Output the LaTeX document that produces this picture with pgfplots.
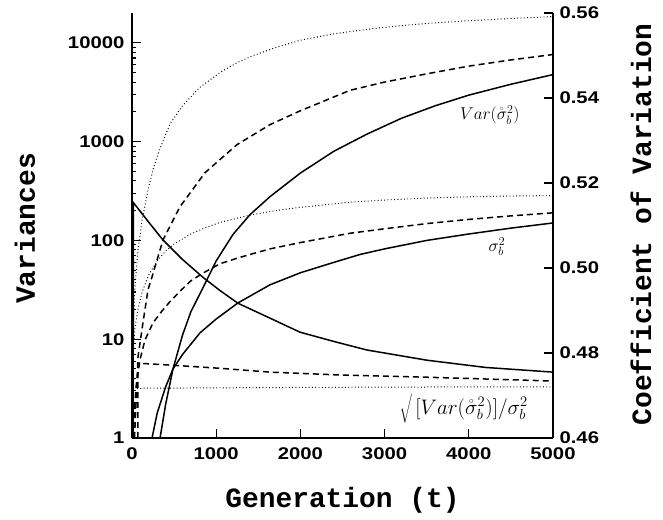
\documentclass[border=0pt]{standalone}
\usepackage{pgfplots}
\pgfplotsset{compat=1.18}
\usepackage{graphicx}
\usepackage{fontspec}
\setmainfont{Liberation Sans}
\newfontfamily\tickfont{Liberation Sans}[FakeStretch=1.2]
\newfontfamily\labfont{Liberation Mono}
\begin{document}
\begin{tikzpicture}
\pgfplotsset{
  common/.style={
    scale only axis, width=421bp, height=425bp,
    xmin=0, xmax=5000,
    tick align=inside,
    major tick length=9bp, minor tick length=4.5bp,
    every tick/.style={line width=1.1bp, black},
    axis line style={line width=1.6bp, -},
    tick label style={font=\tickfont\bfseries\fontsize{17}{20}\selectfont},
    clip mode=individual,
  },
  sol/.style={black, line width=1.5bp},
  das/.style={black, line width=1.5bp, dash pattern=on 6bp off 4bp},
  dot/.style={black, line width=1bp, dash pattern=on 0.9bp off 2.4bp},
}
\begin{axis}[common,
  ymode=log, ymin=1, ymax=20000,
  axis x line*=bottom, axis y line*=left,
  xtick={0,1000,2000,3000,4000,5000},
  xticklabels={0,1000,2000,3000,4000,5000},
  ytick={1,10,100,1000,10000},
  yticklabels={1,10,100,1000,10000},
  yticklabel style={anchor=east, xshift=-4bp},
  xticklabel style={anchor=north, yshift=-6bp},
]
% Var, solid
\addplot[sol] coordinates {(333,1)(400,2.2)(487,5)(600,11)(700,19)(831,31.6)(1000,62)(1200,115)(1401,182)(1639,277)(2000,480)(2400,800)(2800,1200)(3200,1720)(3600,2300)(4000,2950)(4500,3800)(5000,4760)};
% sigma^2, solid
\addplot[sol] coordinates {(238,1)(300,1.8)(400,3.3)(487,5)(600,7.0)(808,11.6)(1000,16)(1259,23.3)(1639,35.5)(2000,47)(2400,60)(2708,72)(3000,82)(3504,100)(4000,116)(4500,133)(5000,150)};
% Var, dashed
\addplot[das] coordinates {(30,1)(71,6.6)(130,14.6)(190,31.6)(238,42.8)(368,101)(570,219)(867,484)(1247,930)(1639,1483)(2000,2050)(2589,3300)(3000,4000)(3504,4850)(4000,5800)(4500,6700)(5000,7600)};
% sigma^2, dashed
\addplot[das] coordinates {(15,1)(30,2)(50,3.4)(95,6.2)(154,9.8)(249,14.6)(350,19)(451,24)(594,32)(700,39)(850,47)(1045,58)(1250,66)(1401,72)(1639,82)(2000,95)(2589,118)(3000,131)(3504,148)(4000,163)(4500,177)(5000,190)};
% Var, dotted
\addplot[dot] coordinates {(2,1)(10,8)(20,18)(36,34)(71,80)(120,160)(190,326)(260,560)(333,850)(450,1500)(600,2300)(800,3500)(1045,5000)(1250,6300)(1437,7400)(1700,8900)(2000,10600)(2400,12300)(2800,13700)(3200,14900)(3600,15900)(4000,16700)(4500,17600)(5000,18400)};
% sigma^2, dotted
\addplot[dot] coordinates {(2,1)(10,5)(20,9)(36,13)(71,20)(120,30)(200,45)(300,62)(400,78)(500,92)(689,115)(850,132)(1045,152)(1400,180)(1700,200)(2000,216)(2600,244)(3000,256)(3500,268)(4000,276)(4500,281)(5000,284)};
\node[font=\fontsize{18}{21}\selectfont] at (axis cs:4250,1850) {$Var(\mathring{\sigma}^2_b)$};
\node[font=\fontsize{18}{21}\selectfont] at (axis cs:4335,86) {$\sigma^2_b$};
\node[font=\fontsize{18}{21}\selectfont] at (axis cs:3940,2.0) {\scalebox{1.22}{$\sqrt{\vphantom{\big[}}\,\big[Var(\mathring{\sigma}^2_b)\big]/\sigma^2_b$}};
\node[font=\labfont\bfseries\fontsize{28}{32}\selectfont, rotate=90] at ([xshift=-107bp, yshift=-3bp]rel axis cs:0,0.5) {Variances};
\node[font=\labfont\bfseries\fontsize{28}{32}\selectfont] at ([yshift=-62bp]rel axis cs:0.5,0) {Generation (t)};
\end{axis}
\begin{axis}[common, name=ax2,
  ymin=0.46, ymax=0.56,
  axis x line=none, axis y line*=right,
  ytick={0.46,0.48,0.50,0.52,0.54,0.56},
  yticklabels={0.46,0.48,0.50,0.52,0.54,0.56},
  yticklabel style={anchor=west, xshift=3bp},
]
% CV, solid
\addplot[sol] coordinates {(14,0.46)(16,0.5154)(214,0.5104)(372,0.5065)(600,0.5020)(843,0.4978)(1045,0.4947)(1259,0.4917)(1639,0.4882)(1995,0.4849)(2400,0.4827)(2791,0.4807)(3504,0.4783)(4200,0.4766)(5000,0.4755)};
% CV, dashed
\addplot[das] coordinates {(69,0.46)(71,0.4776)(500,0.4771)(1045,0.4764)(1639,0.4755)(2500,0.4748)(3504,0.4743)(5000,0.4734)};
% CV, dotted
\addplot[dot] coordinates {(60,0.4717)(1000,0.4718)(2000,0.4719)(3500,0.4720)(5000,0.4720)};
\node[font=\labfont\bfseries\fontsize{28}{32}\selectfont, rotate=90] at ([xshift=88bp, yshift=1bp]rel axis cs:1,0.5) {Coefficient of Variation};
\end{axis}
\path (ax2.south west) ++(-132bp,-82bp) rectangle ++(663bp,520bp);
\end{tikzpicture}
\end{document}
